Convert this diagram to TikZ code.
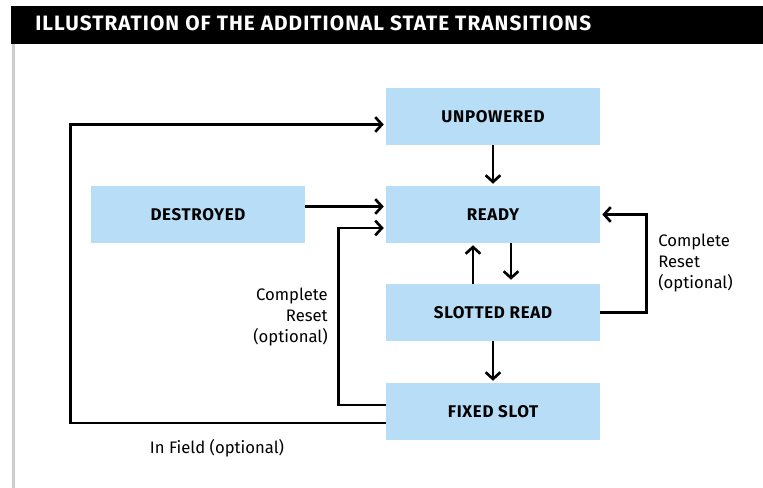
\documentclass[tikz,border=0pt]{standalone}
\usepackage{fontspec}
\setmainfont{Fira Sans}
\usetikzlibrary{arrows.meta,calc}
\definecolor{statebg}{RGB}{183,222,246}
\definecolor{railgray}{RGB}{204,204,204}
\begin{document}
\begin{tikzpicture}[x=0.75pt,y=-0.75pt,
    state/.style={fill=statebg,minimum width=160.5pt,minimum height=42.75pt,inner sep=0pt,
        font=\fontsize{12.7pt}{15pt}\bfseries\addfontfeature{LetterSpace=4}},
    arr/.style={line width=2pt,-{Straight Barb[length=5pt,width=11pt,line width=2pt]}},
    lbl/.style={inner sep=0pt,font=\fontsize{12.5pt}{15.75pt}\selectfont}]
    \useasboundingbox (0,0) rectangle (763,488);
    \fill [black] (11,6) rectangle (763,44);
    \fill [railgray] (12,44) rectangle (15,488);
    \node [anchor=base west,inner sep=0pt,text=white,
        font=\fontsize{15.6pt}{18pt}\bfseries\addfontfeature{LetterSpace=5}] (title) at (35,31)
        {ILLUSTRATION OF THE ADDITIONAL STATE TRANSITIONS};
    \node [state] (unpowered) at (493,116.5) {UNPOWERED};
    \node [state] (ready) at (493,214.5) {READY};
    \node [state] (destroyed) at (198,214.5) {DESTROYED};
    \node [state] (slotted) at (493,312.5) {SLOTTED READ};
    \node [state] (fixed) at (493,411.5) {FIXED SLOT};
    \draw [arr,shorten >=1.5pt] (unpowered) -- (ready);
    \draw [arr,shorten >=1.5pt] ($(destroyed.east)+(0,-8)$) -- ($(ready.west)+(0,-8)$);
    \draw [arr,shorten >=1.5pt] ($(slotted.north)+(-20,0)$) -- ($(ready.south)+(-20,0)$);
    \draw [arr,shorten >=3pt] ($(ready.south)+(18,0)$) -- ($(slotted.north)+(18,0)$);
    \draw [arr,shorten >=1.5pt] (slotted) -- (fixed);
    \draw [arr,shorten >=1.5pt] (slotted.east) -- ++(46,0) |- (ready.east);
    \draw [arr,shorten >=1.5pt] ($(fixed.west)+(0,-6.5)$) -- ++(-47,0) |- ($(ready.west)+(0,13.5)$);
    \draw [arr,shorten >=1.5pt] ($(fixed.west)+(0,11.5)$) -- ++(-315,0) |- ($(unpowered.west)+(0,8)$);
    \node [lbl,anchor=north west,align=left] (resetright) at (658,234) {Complete\\Reset\\(optional)};
    \node [lbl,anchor=north east,align=right] (resetleft) at (328,288) {Complete\\Reset\\(optional)};
    \node [lbl,anchor=base] (infield) at (217,453) {In Field (optional)};
\end{tikzpicture}
\end{document}
